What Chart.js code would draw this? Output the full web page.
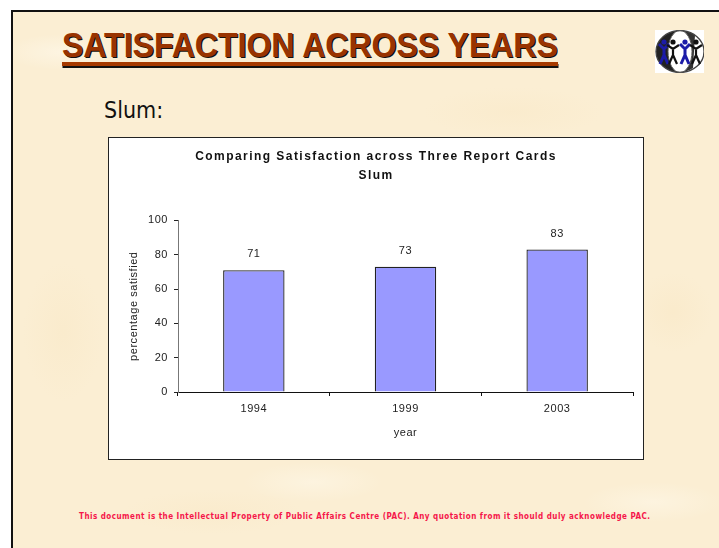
<!DOCTYPE html>
<html><head><meta charset="utf-8">
<script src="https://cdn.jsdelivr.net/npm/chart.js@4"></script>
<style>
html,body{margin:0;padding:0;background:#fff;width:719px;height:548px;overflow:hidden}
#slide{position:absolute;left:11px;top:10px;width:720px;height:548px;border:2px solid #111;box-sizing:border-box;overflow:hidden;
background-color:#fbeed3;
background-image:
radial-gradient(ellipse 60px 18px at 50px 40px,rgba(255,250,238,.55),transparent),
radial-gradient(ellipse 70px 20px at 300px 470px,rgba(255,250,238,.45),transparent),
radial-gradient(ellipse 40px 40px at 660px 300px,rgba(249,232,198,.55),transparent),
radial-gradient(ellipse 40px 70px at 50px 320px,rgba(249,232,198,.5),transparent),
radial-gradient(ellipse 90px 25px at 500px 100px,rgba(249,232,198,.45),transparent),
radial-gradient(ellipse 90px 22px at 200px 500px,rgba(249,232,198,.45),transparent),
radial-gradient(ellipse 70px 20px at 640px 490px,rgba(255,250,238,.45),transparent)}
#head{position:absolute;left:62px;top:25px;margin:0;font:bold 35px "Liberation Sans",Arial,sans-serif;color:#993300;text-shadow:1.2px 1.2px 0 #111;white-space:nowrap;line-height:40px;transform-origin:0 0;transform:scaleX(.915)}
#rule1{position:absolute;left:62px;top:62px;width:496px;height:4px;background:#a63a00;box-shadow:0.5px 2px 0 #111}
#sub{position:absolute;left:104px;top:96px;font:23px "DejaVu Sans Condensed","DejaVu Sans";color:#111;line-height:28px}
#logo{position:absolute;left:655px;top:30px;width:49px;height:43px}
#box{position:absolute;left:108px;top:137px;width:536px;height:323px;background:#fff;border:1px solid #222;box-sizing:border-box}
canvas#c{position:absolute;left:108px;top:137px}
#foot{position:absolute;left:79px;top:512px;font:bold 8px "DejaVu Sans Condensed","DejaVu Sans";letter-spacing:.48px;color:#f5164a;white-space:nowrap;line-height:10px}
</style></head><body>
<div id="slide"></div>
<h1 id="head">SATISFACTION ACROSS YEARS</h1>
<div id="rule1"></div>
<div id="sub">Slum:</div>
<svg id="logo" viewBox="0 0 49 43"><rect width="49" height="43" fill="#fff"/>
<ellipse cx="25" cy="21.5" rx="24" ry="21" fill="#fff"/>
<path d="M25 .5A24 21 0 0 0 25 42.5A12 21 0 0 1 25 .5Z" fill="#222"/>
<path d="M25 .5A24 21 0 0 1 40 5L38 38A24 21 0 0 1 25 42.5A12 21 0 0 0 25 .5Z" fill="#333"/>
<path d="M25 .5A12 21 0 0 1 25 42.5A12 21 0 0 1 25 .5Z" fill="#fff"/>
<ellipse cx="25" cy="21.5" rx="24" ry="21" fill="none" stroke="#444" stroke-width="1.3"/>
<ellipse cx="25" cy="21.5" rx="12" ry="21" fill="none" stroke="#555" stroke-width="1"/>
<g stroke="#1c1ca8" stroke-width="3" fill="none"><path d="M5 34l4-9 4 9M9 26v-7M4 14l5 5 5-5M26 34l4-9 4 9M30 26v-7M25 14l5 5 5-5"/></g>
<circle cx="9" cy="12" r="2.6" fill="#1c1ca8"/><circle cx="30" cy="12" r="2.6" fill="#1c1ca8"/>
<g stroke="#111" stroke-width="2.2" fill="none"><path d="M14 34l4-9 4 9M18 25v-6M12 15l6 4 6-4M37 34l4-9 4 9M41 25v-6M35 15l6 4 6-4"/></g>
<circle cx="18" cy="12" r="2.6" fill="#111"/><circle cx="41" cy="12" r="2.6" fill="#111"/></svg>
<div id="box"></div>
<canvas id="c" width="536" height="323"></canvas>
<div id="foot">This document is the Intellectual Property of Public Affairs Centre (PAC). Any quotation from it should duly acknowledge PAC.</div>
<script>
const categories=["1994","1999","2003"];
const satisfied=[71,73,83];
const yTicks=[0,20,40,60,80,100];
const chartTitle=["Comparing Satisfaction across Three Report Cards","Slum"];
const yTitle="percentage satisfied";
const xTitle="year";
const font="'Liberation Sans',Arial,sans-serif";
const valueLabels={id:"valueLabels",
beforeDraw(ch){const ctx=ch.ctx;ctx.letterSpacing="0.55px";const t=ch.titleBlock;
 if(t&&!t._wrapped){const d=t.draw.bind(t);t.draw=function(){ctx.letterSpacing="1.45px";d();ctx.letterSpacing="0.55px";};t._wrapped=true;}},
afterDatasetsDraw(ch){const ctx=ch.ctx;ctx.save();ctx.font="11px "+font;ctx.fillStyle="#222";ctx.textAlign="center";ctx.textBaseline="middle";
ch.getDatasetMeta(0).data.forEach((b,i)=>ctx.fillText(String(satisfied[i]),b.x,b.y-16));ctx.restore();}};
new Chart(document.getElementById("c"),{type:"bar",
data:{labels:categories,datasets:[{data:satisfied,backgroundColor:"#9999ff",borderColor:"#222",borderWidth:1.3,categoryPercentage:1,barPercentage:0.405}]},
plugins:[valueLabels],
options:{responsive:false,animation:false,events:[],
layout:{padding:{left:11,right:11,top:0,bottom:0}},
plugins:{legend:{display:false},tooltip:{enabled:false},
title:{display:true,text:chartTitle,color:"#111",font:{family:font,size:12,weight:"bold",lineHeight:1.6},padding:{top:10,bottom:35}}},
scales:{
x:{grid:{drawOnChartArea:false,tickLength:4,color:"#111"},border:{color:"#111"},
ticks:{color:"#222",font:{family:font,size:11},padding:6,maxRotation:0},
title:{display:true,text:xTitle,color:"#222",font:{family:font,size:11},padding:{top:6,bottom:20}},
afterFit(s){s.height=68;}},
y:{min:0,max:100,afterBuildTicks(s){s.ticks=yTicks.map(v=>({value:v}));},
grid:{drawOnChartArea:false,tickLength:4,color:"#222"},border:{color:"#777",width:1},
ticks:{color:"#222",font:{family:font,size:11},padding:6},
title:{display:true,text:yTitle,color:"#222",font:{family:font,size:11},padding:{top:8,bottom:0}},
afterFit(s){s.width=59;}}
}}});
</script></body></html>
